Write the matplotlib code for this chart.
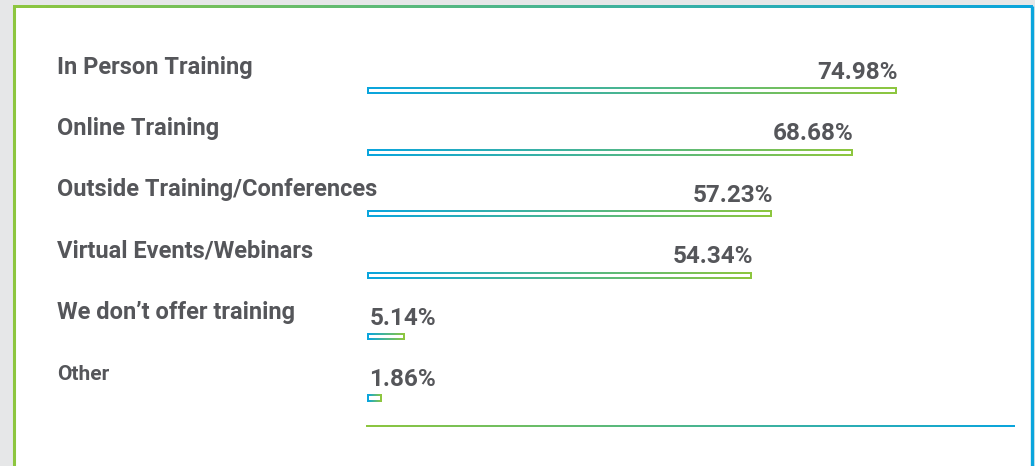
import matplotlib.pyplot as plt
import numpy as np
import matplotlib.transforms as mtransforms
from matplotlib.collections import LineCollection
from matplotlib.colors import LinearSegmentedColormap
from matplotlib.patches import Rectangle

# Dados
categories = ['In Person Training', 'Online Training', 'Outside Training/Conferences',
              'Virtual Events/Webinars', 'We don\u2019t offer training', 'Other']
values = [74.98, 68.68, 57.23, 54.34, 5.14, 1.86]

blue = '#0aa5dd'
green = '#8dc63f'
text_color = '#55565a'
cmap = LinearSegmentedColormap.from_list('bg', [blue, green])

fig = plt.figure(figsize=(10.35, 4.66), dpi=100)
fig.patch.set_facecolor('#e6e7e8')

# moldura (coordenadas em pixels)
bg = fig.add_axes([0, 0, 1, 1])
bg.add_patch(Rectangle((14, 7), 1018, 470, facecolor='white', edgecolor='none', zorder=0))
bg.plot([14, 14], [7, 466], color=green, lw=2.2, solid_capstyle='butt', zorder=3)
bg.plot([1031.5, 1031.5], [6, 466], color=blue, lw=2.4, solid_capstyle='butt', zorder=3)
grad = np.linspace(1, 0, 256)[None, :]
bg.imshow(grad, cmap=cmap, extent=[13, 1033, 8.5, 5.5], aspect='auto', zorder=3)
# linha de base
bg.imshow(grad, cmap=cmap, extent=[366, 1015, 427, 425], aspect='auto', zorder=3)
bg.set_xlim(0, 1035)
bg.set_ylim(466, 0)
bg.axis('off')

# eixo principal
ax = fig.add_axes([366 / 1035, 40 / 466, 649 / 1035, 386 / 466])
ax.patch.set_alpha(0)
y = np.arange(len(categories))
bars = ax.barh(y, values, height=0.082, color='none', edgecolor='none')

for bar in bars:
    x0, y0 = bar.get_x(), bar.get_y()
    w, h = bar.get_width(), bar.get_height()
    xs = np.linspace(x0, x0 + w, 80)
    t = np.linspace(0, 1, 79)
    segs = []
    cols = []
    for yy in (y0, y0 + h):
        for k in range(79):
            segs.append([(xs[k], yy), (xs[k + 1], yy)])
            cols.append(cmap(t[k]))
    ax.add_collection(LineCollection(segs, colors=cols, linewidths=1.44,
                                     capstyle='butt', antialiaseds=False))
    sides = [[(x0, y0), (x0, y0 + h)], [(x0 + w, y0), (x0 + w, y0 + h)]]
    ax.add_collection(LineCollection(sides, colors=[cmap(0.0), cmap(1.0)],
                                     linewidths=1.44, capstyle='projecting',
                                     antialiaseds=False))

for i, v in enumerate(values):
    if v < 10:
        ax.annotate(f'{v:.2f}%', (0, i), xytext=(1, 5), textcoords='offset points',
                    ha='left', va='bottom', fontsize=17.5, fontweight='bold',
                    family='Roboto', color=text_color)
    else:
        ax.annotate(f'{v:.2f}%', (v, i), xytext=(1.5, 5), textcoords='offset points',
                    ha='right', va='bottom', fontsize=17.5, fontweight='bold',
                    family='Roboto', color=text_color)

trans = mtransforms.blended_transform_factory(fig.transFigure, ax.transData)
for i, c in enumerate(categories):
    ax.text(57 / 1035, i - 0.39, c, transform=trans, ha='left', va='center',
            fontsize=15 if c == 'Other' else 17, fontweight='bold',
            family='Roboto', color=text_color)

ax.set_xlim(-0.284, 91.88)
ax.set_ylim(5.456, -0.83)
ax.axis('off')

plt.savefig('out.png', dpi=100, facecolor=fig.get_facecolor())
